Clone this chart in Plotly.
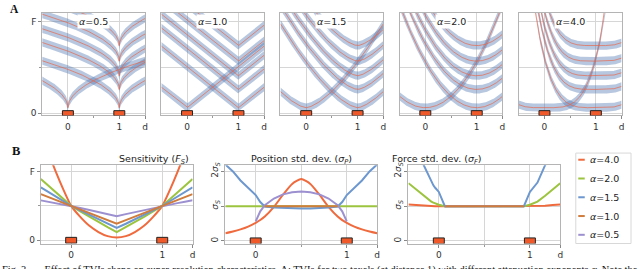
import numpy as np
import plotly.graph_objects as go

W, H = 640, 269

# ---------------- Panel A: TVIs (isolines) ----------------
A_ALPHAS = [0.5, 1.0, 1.5, 2.0, 4.0]
A_LABELS = ["<i>α</i>=0.5", "<i>α</i>=1.0", "<i>α</i>=1.5", "<i>α</i>=2.0", "<i>α</i>=4.0"]
A_RISE = [0.42, 0.45, 0.50, 0.50, 0.54]        # isoline rise at distance 1
TAXELS = [0, 1]
TAXEL0_LEVELS = [0.06]
TAXEL1_LEVELS = [0.06, 0.26, 0.41, 0.57, 0.74]
BAND_HALF = 0.045

# ---------------- Panel B data ----------------
B_ALPHA_NAMES = ["<i>α</i>=4.0", "<i>α</i>=2.0", "<i>α</i>=1.5", "<i>α</i>=1.0", "<i>α</i>=0.5"]
B_COLORS = ["#ef6a3d", "#9cc43e", "#6c97cf", "#d07c3c", "#9d90d0"]

SENS_X = [-0.333, -0.25, -0.167, -0.083, 0, 0.1, 0.2, 0.3, 0.4, 0.5,
          0.6, 0.7, 0.8, 0.9, 1, 1.083, 1.167, 1.25, 1.333]
SENS = {
    "4.0": [1.6, 1.28, 0.99, 0.73, 0.50, 0.34, 0.21, 0.12, 0.06, 0.04,
            0.06, 0.12, 0.21, 0.34, 0.50, 0.73, 0.99, 1.28, 1.6],
    "2.0": [0.89, 0.79, 0.69, 0.595, 0.50, 0.42, 0.34, 0.265, 0.19, 0.12,
            0.19, 0.265, 0.34, 0.42, 0.50, 0.595, 0.69, 0.79, 0.89],
    "1.5": [0.77, 0.70, 0.635, 0.567, 0.50, 0.435, 0.37, 0.305, 0.24, 0.18,
            0.24, 0.305, 0.37, 0.435, 0.50, 0.567, 0.635, 0.70, 0.77],
    "1.0": [0.67, 0.628, 0.585, 0.543, 0.50, 0.448, 0.396, 0.344, 0.292, 0.24,
            0.292, 0.344, 0.396, 0.448, 0.50, 0.543, 0.585, 0.628, 0.67],
    "0.5": [0.58, 0.56, 0.54, 0.52, 0.50, 0.47, 0.44, 0.41, 0.38, 0.35,
            0.38, 0.41, 0.44, 0.47, 0.50, 0.52, 0.54, 0.56, 0.58],
}

POS_X = [-0.333, -0.25, -0.167, -0.083, 0, 0.05, 0.1, 0.2, 0.3, 0.4, 0.5,
         0.6, 0.7, 0.8, 0.9, 0.95, 1, 1.083, 1.167, 1.25, 1.333]
POS = {
    "4.0": [0.22, 0.27, 0.33, 0.41, 0.52, 0.60, 0.70, 0.98, 1.33, 1.64, 1.78,
            1.64, 1.33, 0.98, 0.70, 0.60, 0.52, 0.41, 0.33, 0.27, 0.22],
    "2.0": [1.0] * 21,
    "1.5": [2.2, 2.0, 1.74, 1.52, 1.32, 1.12, 0.99, 0.96, 0.945, 0.935, 0.93,
            0.935, 0.945, 0.96, 0.99, 1.12, 1.32, 1.52, 1.74, 2.0, 2.2],
    "1.0": [None, None, None, None, None, None, 1.0, 1.0, 1.0, 1.0, 1.0,
            1.0, 1.0, 1.0, 1.0, None, None, None, None, None, None],
    "0.5": [None, None, None, None, 0.56, 0.85, 1.03, 1.22, 1.34, 1.40, 1.42,
            1.40, 1.34, 1.22, 1.03, 0.85, 0.56, None, None, None, None],
}

FORCE_X = [-0.333, -0.25, -0.167, -0.083, -0.06, -0.04, 0, 0.066, 0.2, 0.5,
           0.8, 0.934, 1, 1.04, 1.06, 1.083, 1.167, 1.25, 1.333]
FORCE = {
    "4.0": [1.05, 1.03, 1.01, 1.0, 1.0, 1.0, 1.0, 1.0, 1.0, 1.0,
            1.0, 1.0, 1.0, 1.0, 1.0, 1.0, 1.01, 1.03, 1.05],
    "2.0": [1.66, 1.48, 1.30, 1.13, 1.10, 1.08, 1.04, 1.0, 1.0, 1.0,
            1.0, 1.0, 1.04, 1.08, 1.10, 1.13, 1.30, 1.48, 1.66],
    "1.5": [3.1, 2.64, 2.18, 1.68, 1.60, 1.53, 1.41, 1.0, 1.0, 1.0,
            1.0, 1.0, 1.41, 1.53, 1.60, 1.68, 2.18, 2.64, 3.1],
    "1.0": [None, None, None, None, None, None, None, 1.0, 1.0, 1.0,
            1.0, 1.0, None, None, None, None, None, None, None],
    "0.5": [None, None, None, None, None, None, None, 1.0, 1.0, 1.0,
            1.0, 1.0, None, None, None, None, None, None, None],
}
B_KEYS = ["4.0", "2.0", "1.5", "1.0", "0.5"]
B_TITLES = ["Sensitivity (<i>F<sub>S</sub></i>)",
            "Position std. dev. (<i>σ<sub>P</sub></i>)",
            "Force std. dev. (<i>σ<sub>F</sub></i>)"]

CAPTION = ("Fig. 3.\u00a0\u00a0\u00a0\u00a0\u00a0 Effect of TVIs shape on super-resolution characteristics. "
           "A: TVIs for two taxels (at distance 1) with different attenuation exponents "
           "<i>α</i>. Note the")

# ---------------- layout geometry (pixels) ----------------
A_LEFT = [42.4, 162.1, 281.8, 401.5, 521.2]
A_W = 103.3
A_TOP, A_BOT = 10, 115
A_YR = [-0.0246, 1.0996]
B_LEFT = [41.0, 226.4, 410.4]
B_W = 152.5
B_TOP, B_BOT = 166, 246
B1_YR = [-0.047, 1.0895]
B23_YR = [-0.076, 2.177]

FONT = "DejaVu Sans"
GRID = "#d6d6d6"
FRAME = "#b4b4b4"

fig = go.Figure()
layout = dict(width=W, height=H, margin=dict(l=0, r=0, t=0, b=0),
              paper_bgcolor="white", plot_bgcolor="white", showlegend=False,
              font=dict(family=FONT, size=9, color="#333333"))
shapes, annos = [], []


def xdom(left, w):
    return [left / W, (left + w) / W]


def ydom(top, bot):
    return [1 - bot / H, 1 - top / H]


def axis(domain, rng, anchor, tickvals, ticktext, minor_vals, minor_grid,
         tickangle=None, labels=True):
    d = dict(domain=domain, range=rng, anchor=anchor, tickvals=tickvals, ticktext=ticktext,
             showgrid=True, gridcolor=GRID, gridwidth=1, zeroline=False,
             showline=True, mirror=True, linecolor=FRAME, linewidth=1,
             ticks="outside", ticklen=3, tickcolor="#888888", tickwidth=1,
             showticklabels=labels,
             minor=dict(tickvals=minor_vals, showgrid=minor_grid, gridcolor=GRID, gridwidth=1,
                        ticks="outside", ticklen=2, tickcolor="#999999"),
             tickfont=dict(family=FONT, size=9, color="#333333"), fixedrange=True)
    if tickangle is not None:
        d["tickangle"] = tickangle
    return d


xs = np.linspace(-0.5, 1.5, 401)
for i, (alpha, rise) in enumerate(zip(A_ALPHAS, A_RISE)):
    n = i + 1
    xa, ya = ("x" if n == 1 else f"x{n}"), ("y" if n == 1 else f"y{n}")
    layout["xaxis" if n == 1 else f"xaxis{n}"] = axis(
        xdom(A_LEFT[i], A_W), [-0.5, 1.5], ya, [0, 1, 1.5], ["0", "1", "d"], [0.5], False)
    layout["yaxis" if n == 1 else f"yaxis{n}"] = axis(
        ydom(A_TOP, A_BOT), A_YR, xa, [0, 1], ["0", "F"], [0.5], True, labels=(n == 1))
    if n != 1:
        layout[f"yaxis{n}"]["ticks"] = ""
        layout[f"yaxis{n}"]["minor"]["ticks"] = ""
    curves = [(TAXELS[0], lv) for lv in TAXEL0_LEVELS] + [(TAXELS[1], lv) for lv in TAXEL1_LEVELS]
    for pos, lv in curves:
        y = lv + rise * np.abs(xs - pos) ** alpha
        y = np.minimum(y, 2.0)
        fig.add_trace(go.Scatter(
            x=np.concatenate([xs, xs[::-1]]),
            y=np.concatenate([y + BAND_HALF, (y - BAND_HALF)[::-1]]),
            fill="toself", fillcolor="rgba(76,114,176,0.40)", line=dict(width=0),
            mode="lines", hoverinfo="skip", xaxis=xa, yaxis=ya))
    for pos, lv in curves:
        y = lv + rise * np.abs(xs - pos) ** alpha
        y = np.minimum(y, 2.0)
        fig.add_trace(go.Scatter(x=xs, y=y, mode="lines",
                                 line=dict(color="rgba(232,100,72,0.75)", width=0.9),
                                 hoverinfo="skip", xaxis=xa, yaxis=ya))
    annos.append(dict(x=0.5, y=1.005, xref=xa, yref=ya, text=A_LABELS[i], showarrow=False,
                      bgcolor="white", borderpad=1,
                      font=dict(family=FONT, size=9.5, color="#222222")))
    # taxel markers
    hw = 5.5 / (A_W / 2.0)
    hh = 2.6 / ((A_BOT - A_TOP) / (A_YR[1] - A_YR[0]))
    for p in TAXELS:
        shapes.append(dict(type="rect", xref=xa, yref=ya, x0=p - hw, x1=p + hw, y0=-hh, y1=hh,
                           fillcolor="#f05a2a", line=dict(color="#222222", width=1), layer="above"))

# Panel B
b_series = [(SENS_X, SENS, B1_YR), (POS_X, POS, B23_YR), (FORCE_X, FORCE, B23_YR)]
draw_order = ["4.0", "2.0", "1.5", "0.5", "1.0"]
for j, (bx, data, yr) in enumerate(b_series):
    n = 6 + j
    xa, ya = f"x{n}", f"y{n}"
    layout[f"xaxis{n}"] = axis(xdom(B_LEFT[j], B_W), [-1 / 3, 4 / 3], ya,
                               [0, 1, 4 / 3], ["0", "1", "d"], [0.5], True)
    if j == 0:
        layout[f"yaxis{n}"] = axis(ydom(B_TOP, B_BOT), yr, xa, [0, 1], ["0", "F"], [0.5], True)
    else:
        layout[f"yaxis{n}"] = axis(ydom(B_TOP, B_BOT), yr, xa, [0, 1, 2],
                                   ["0", "<i>σ<sub>S</sub></i>", "2<i>σ<sub>S</sub></i>"],
                                   [], False, tickangle=-90)
    for k in draw_order:
        ci = B_KEYS.index(k)
        fig.add_trace(go.Scatter(x=bx, y=data[k], mode="lines",
                                 line=dict(color=B_COLORS[ci], width=2,
                                           shape="spline" if (k == "4.0" and j < 2) else "linear",
                                           smoothing=0.6),
                                 connectgaps=False, hoverinfo="skip", xaxis=xa, yaxis=ya))
    hw = 5.5 / (B_W / (5 / 3))
    hh = 3.0 / ((B_BOT - B_TOP) / (yr[1] - yr[0]))
    for p in TAXELS:
        shapes.append(dict(type="rect", xref=xa, yref=ya, x0=p - hw, x1=p + hw, y0=-hh, y1=hh,
                           fillcolor="#f05a2a", line=dict(color="#222222", width=1), layer="above"))
    annos.append(dict(x=(B_LEFT[j] + B_W / 2) / W, y=1 - 160.5 / H, xref="paper", yref="paper",
                      text=B_TITLES[j], showarrow=False, yanchor="middle",
                      font=dict(family=FONT, size=9.5, color="#222222")))

# manual legend
LX0, LY0, LX1, LY1 = 578.5, 153.5, 634, 246
shapes.append(dict(type="rect", xref="paper", yref="paper", x0=LX0 / W, x1=LX1 / W,
                   y0=1 - LY1 / H, y1=1 - LY0 / H, line=dict(color="#d8d8d8", width=1),
                   fillcolor="white", layer="above"))
for r, k in enumerate(B_KEYS):
    yc = 160.3 + r * 19.2
    shapes.append(dict(type="line", xref="paper", yref="paper", x0=581 / W, x1=587.5 / W,
                       y0=1 - yc / H, y1=1 - yc / H, line=dict(color=B_COLORS[r], width=2),
                       layer="above"))
    annos.append(dict(x=590.5 / W, y=1 - yc / H, xref="paper", yref="paper", text=B_ALPHA_NAMES[r],
                      showarrow=False, xanchor="left", yanchor="middle",
                      font=dict(family=FONT, size=9.5, color="#222222")))

# panel letters and caption
annos.append(dict(x=15 / W, y=1 - 6 / H, xref="paper", yref="paper", text="<b>A</b>", showarrow=False,
                  xanchor="center", yanchor="middle",
                  font=dict(family="Liberation Serif", size=11.5, color="#111111")))
annos.append(dict(x=16.5 / W, y=1 - 151.5 / H, xref="paper", yref="paper", text="<b>B</b>",
                  showarrow=False, xanchor="center", yanchor="middle",
                  font=dict(family="Liberation Serif", size=12.5, color="#111111")))
annos.append(dict(x=0, y=1 - 264.5 / H, xref="paper", yref="paper", text=CAPTION, showarrow=False,
                  xanchor="left", yanchor="top",
                  font=dict(family="Liberation Serif", size=10.4, color="#111111")))

layout["shapes"] = shapes
layout["annotations"] = annos
fig.update_layout(**layout)
fig.write_html("out.html", config={"displayModeBar": False},
               post_script="document.body.style.margin='0px';document.body.style.overflow='hidden';")
